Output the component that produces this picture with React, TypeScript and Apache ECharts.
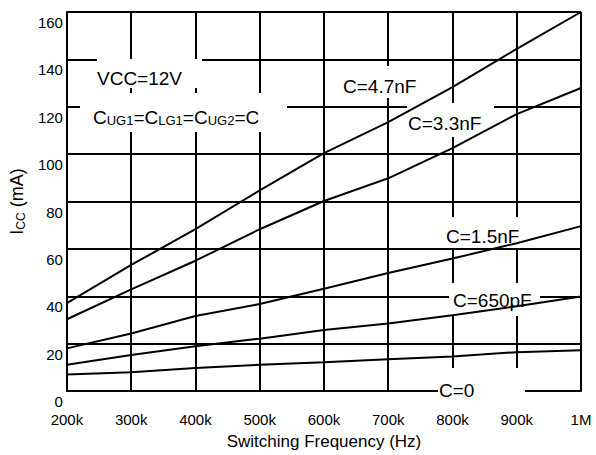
import React, { useEffect, useRef } from 'react';
import * as echarts from 'echarts';

const frequencies = [200000, 300000, 400000, 500000, 600000, 700000, 800000, 900000, 1000000];
const icc4700pF = [37.1, 53.2, 68.3, 84.7, 100.4, 113.5, 128.3, 144.4, 160];
const icc3300pF = [30.3, 42.9, 55.0, 68.3, 80.2, 89.8, 102.5, 116.9, 127.9];
const icc1500pF = [18.0, 24.3, 31.7, 36.7, 43.2, 49.8, 55.9, 62.4, 69.6];
const icc650pF = [11.1, 15.2, 18.9, 22.1, 25.8, 28.5, 32.0, 35.8, 39.9];
const icc0 = [7.0, 7.9, 9.7, 11.1, 12.1, 13.4, 14.6, 16.4, 17.2];
const seriesNames = ['C=4.7nF', 'C=3.3nF', 'C=1.5nF', 'C=650pF', 'C=0'];
const seriesValues = [icc4700pF, icc3300pF, icc1500pF, icc650pF, icc0];

const FONT = "'Liberation Sans', Arial, Helvetica, sans-serif";

export default function App() {
  const ref = useRef<HTMLDivElement>(null);
  useEffect(() => {
    if (!ref.current) return;
    const chart = echarts.init(ref.current, undefined, { renderer: 'svg' });
    const whiteRect = (x: number, y: number, w: number, h: number) => ({
      type: 'rect',
      z: 1,
      silent: true,
      shape: { x, y, width: w, height: h },
      style: { fill: '#ffffff' },
    });
    const label = (x: number, y: number, text: string, rich?: any) => ({
      type: 'text',
      z: 10,
      silent: true,
      x,
      y,
      style: {
        text,
        fill: '#000',
        fontSize: 19,
        fontFamily: FONT,
        textAlign: 'left',
        textVerticalAlign: 'middle',
        rich,
      },
    });
    const subRich = {
      m: { fontSize: 19, fontFamily: FONT, fill: '#000', lineHeight: 20, verticalAlign: 'middle' },
      s: { fontSize: 13, fontFamily: FONT, fill: '#000', lineHeight: 11, verticalAlign: 'bottom' },
    };
    chart.setOption({
      animation: false,
      backgroundColor: '#ffffff',
      textStyle: { fontFamily: FONT, color: '#000' },
      grid: { left: 63, right: 15, top: 12, bottom: 54, containLabel: false },
      xAxis: {
        type: 'value',
        min: 200000,
        max: 1000000,
        interval: 100000,
        name: 'Switching Frequency (Hz)',
        nameLocation: 'middle',
        nameGap: 42,
        nameTextStyle: { fontSize: 17, fontFamily: FONT, color: '#000' },
        axisLine: { show: true, lineStyle: { color: '#000', width: 2 } },
        axisTick: { show: false },
        splitLine: { show: true, lineStyle: { color: '#000', width: 2 } },
        axisLabel: {
          fontSize: 15,
          fontFamily: FONT,
          color: '#000',
          margin: 21,
          formatter: (v: number) => (v >= 1000000 ? '1M' : `${v / 1000}k`),
        },
      },
      yAxis: {
        type: 'value',
        min: 0,
        max: 160,
        interval: 20,
        name: '{m|I}{s|CC}{m| (mA)}',
        nameLocation: 'middle',
        nameRotate: 90,
        nameGap: 35,
        nameTextStyle: {
          fontSize: 18,
          fontFamily: FONT,
          color: '#000',
          rich: {
            m: { fontSize: 18, fontFamily: FONT, color: '#000', lineHeight: 20, verticalAlign: 'middle' },
            s: { fontSize: 12, fontFamily: FONT, color: '#000', lineHeight: 11, verticalAlign: 'bottom' },
          },
        },
        axisLine: { show: true, lineStyle: { color: '#000', width: 2 } },
        axisTick: { show: false },
        splitLine: { show: true, lineStyle: { color: '#000', width: 2 } },
        axisLabel: {
          fontSize: 15,
          fontFamily: FONT,
          color: '#000',
          margin: 4,
          verticalAlign: 'top',
          lineHeight: 21,
        },
      },
      graphic: [
        whiteRect(97, 59, 105, 29),
        whiteRect(80, 93, 207, 39),
        whiteRect(340, 66, 78, 32),
        whiteRect(407, 103, 87, 34),
        whiteRect(445, 217, 80, 31),
        whiteRect(449, 283, 91, 33),
        whiteRect(438, 368, 87, 31),
        label(97, 78, 'VCC=12V'),
        label(93, 117, '{m|C}{s|UG1}{m|=C}{s|LG1}{m|=C}{s|UG2}{m|=C}', subRich),
        label(343, 86, seriesNames[0]),
        label(408, 123, seriesNames[1]),
        label(446, 236, seriesNames[2]),
        label(453, 300, seriesNames[3]),
        label(439, 390, seriesNames[4]),
      ],
      series: seriesValues.map((vals, i) => ({
        name: seriesNames[i],
        type: 'line',
        z: 3,
        symbol: 'none',
        silent: true,
        lineStyle: { color: '#000', width: 2 },
        data: frequencies.map((f, j) => [f, vals[j]]),
      })),
    });
    return () => chart.dispose();
  }, []);
  return (
    <div
      ref={ref}
      style={{ position: 'fixed', left: 0, top: 0, width: 596, height: 455, background: '#fff' }}
    />
  );
}
